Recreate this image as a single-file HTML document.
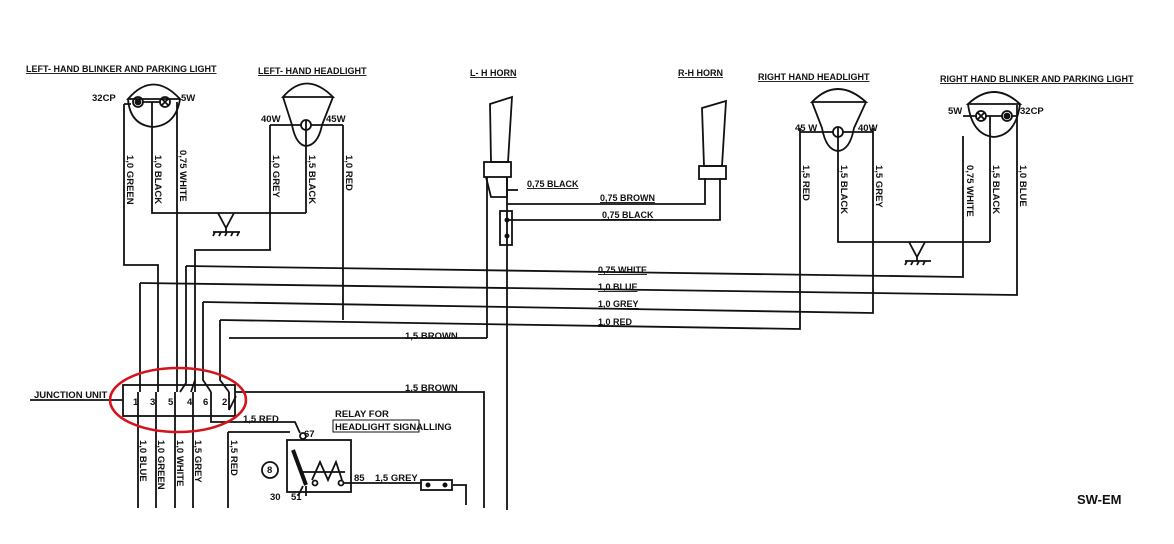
<!DOCTYPE html>
<html><head><meta charset="utf-8"><style>
html,body{margin:0;padding:0;background:#fff}
svg{display:block}
text{font-family:"Liberation Sans",sans-serif;font-weight:bold;fill:#111}
.t{font-size:9.5px}
.h{font-size:9px;text-decoration:underline}
</style></head><body>
<svg width="1174" height="544" viewBox="0 0 1174 544" xmlns="http://www.w3.org/2000/svg">
<g fill="none" stroke="#111" stroke-width="1.8">
<path d="M128,99 Q153,70 180,99 Z"/>
<path d="M128,99 Q130,125 153,127 Q176,125 180,99"/>
<circle cx="138" cy="102" r="5"/><circle cx="138" cy="102" r="2.5" fill="#111"/>
<circle cx="165" cy="102" r="5"/>
<path d="M162,99 l6,6 M168,99 l-6,6"/>
<path d="M124,104 H131 M143,102 H160"/>
<path d="M124,104 V265 H158 V392"/>
<path d="M152,102 V213 H306"/>
<path d="M177,102 V392"/>
<path d="M218,213 L226,228 L234,213 M226,228 V232 M213,232 H240 M215,232 l-2,4 M221,232 l-2,4 M227,232 l-2,4 M233,232 l-2,4 M239,232 l-2,4"/>
<path d="M283,97 Q306,70 333,97 Z"/>
<path d="M283,97 L292,125 Q296,145 306,146 Q318,145 322,125 L333,97"/>
<circle cx="306" cy="125" r="5"/><path d="M306,120 V130"/>
<path d="M270,125 H301 M311,125 H343"/>
<path d="M270,125 V250 H195 V392"/>
<path d="M306,130 V213"/>
<path d="M343,125 V320"/>
<path d="M186,266 L963,277 V136"/>
<path d="M186,266 V383 L180,392"/>
<path d="M140,283 L1017,295 V105"/>
<path d="M140,283 V392"/>
<path d="M203,302 L873,313 V128"/>
<path d="M203,302 V380 L211,392 M195,380 L191,392"/>
<path d="M220,320 L800,329 V128"/>
<path d="M220,320 V380 L229,392"/>
<path d="M229,338 H487"/>
<rect x="123" y="385" width="112" height="31"/>
<path d="M30,400 H123"/>
<path d="M138,392 V410 M156,392 V410 M175,392 V410 M193,392 V410 M211,392 V410 M229,392 V410 M229,410 L236,396"/>
<path d="M138,410 V508 M156,410 V508 M175,410 V508 M193,410 V508"/>
<path d="M211,410 V422 H295 L300,433"/>
<path d="M228,432 H290 M228,432 V508"/>
<path d="M235,392 H484 V508"/>
<rect x="287" y="440" width="64" height="52"/>
<circle cx="303" cy="436" r="3"/>
<path d="M293,450 L306,485" stroke-width="4"/>
<path d="M303,472 H345 M312,480 L320,462 L328,480 L336,462 L342,480"/>
<circle cx="315" cy="483" r="2.5"/><circle cx="341" cy="483" r="2.5"/>
<path d="M306,486 V496 M298,496 L303,486"/>
<circle cx="270" cy="470" r="8"/>
<path d="M344,483 H421 M453,485 H466 V505"/>
<rect x="421" y="480" width="31" height="10"/>
<circle cx="428" cy="485" r="1.6" fill="#111"/><circle cx="445" cy="485" r="1.6" fill="#111"/>
<rect x="333" y="420" width="86" height="12" stroke-width="1"/>
<path d="M490,104 L512,97 L508,162 H491 Z"/>
<rect x="484" y="162" width="27" height="15"/>
<path d="M486,177 L491,197 H507 L507,177"/>
<path d="M487,177 V338"/>
<path d="M507,177 V510"/>
<path d="M507,190 H518"/>
<rect x="500" y="211" width="12" height="34"/>
<circle cx="507" cy="220" r="1.6" fill="#111"/><circle cx="507" cy="236" r="1.6" fill="#111"/>
<path d="M507,204 H705 V178"/>
<path d="M507,220 H720 V178"/>
<path d="M702,108 L726,101 L722,166 H704 Z"/>
<rect x="699" y="166" width="27" height="13"/>
<path d="M812,102 Q837,76 866,102 Z"/>
<path d="M812,102 L822,128 Q826,150 838,151 Q850,150 854,128 L866,102"/>
<circle cx="838" cy="132" r="5"/><path d="M838,127 V137"/>
<path d="M800,132 H833 M843,132 H873"/>
<path d="M838,137 V242 H990"/>
<path d="M909,242 L917,257 L925,242 M917,257 V261 M905,261 H931 M907,261 l-2,4 M913,261 l-2,4 M919,261 l-2,4 M925,261 l-2,4"/>
<path d="M968,104 Q994,80 1020,104 Z"/>
<path d="M968,104 Q972,135 994,137 Q1016,135 1020,104"/>
<circle cx="981" cy="116" r="5"/><path d="M978,113 l6,6 M984,113 l-6,6"/>
<circle cx="1007" cy="116" r="5"/><circle cx="1007" cy="116" r="2.5" fill="#111"/>
<path d="M963,116 H976 M986,116 H1002 M1012,116 H1017"/>
<path d="M990,116 V242"/>
</g>
<ellipse cx="178" cy="400" rx="68" ry="32" fill="none" stroke="#d4141c" stroke-width="2.6"/>
<text class="h" x="26" y="72">LEFT- HAND BLINKER AND PARKING LIGHT</text>
<text class="h" x="258" y="74">LEFT- HAND HEADLIGHT</text>
<text class="h" x="470" y="76">L- H  HORN</text>
<text class="h" x="678" y="76">R-H  HORN</text>
<text class="h" x="758" y="80">RIGHT HAND HEADLIGHT</text>
<text class="h" x="940" y="82">RIGHT HAND BLINKER AND PARKING LIGHT</text>
<text class="t" x="92" y="101">32CP</text>
<text class="t" x="181" y="101">5W</text>
<text class="t" x="261" y="122">40W</text>
<text class="t" x="326" y="122">45W</text>
<text class="t" x="795" y="131">45 W</text>
<text class="t" x="858" y="131">40W</text>
<text class="t" x="948" y="114">5W</text>
<text class="t" x="1020" y="114">32CP</text>
<g class="t">
<text transform="translate(127,155) rotate(90)">1,0 GREEN</text>
<text transform="translate(155,155) rotate(90)">1,0 BLACK</text>
<text transform="translate(180,150) rotate(90)">0,75 WHITE</text>
<text transform="translate(273,155) rotate(90)">1,0 GREY</text>
<text transform="translate(309,155) rotate(90)">1,5 BLACK</text>
<text transform="translate(346,155) rotate(90)">1,0 RED</text>
<text transform="translate(803,165) rotate(90)">1,5 RED</text>
<text transform="translate(841,165) rotate(90)">1,5 BLACK</text>
<text transform="translate(876,165) rotate(90)">1,5 GREY</text>
<text transform="translate(967,165) rotate(90)">0,75 WHITE</text>
<text transform="translate(993,165) rotate(90)">1,5 BLACK</text>
<text transform="translate(1020,165) rotate(90)">1,0 BLUE</text>
<text transform="translate(140,440) rotate(90)">1,0 BLUE</text>
<text transform="translate(158,440) rotate(90)">1,0 GREEN</text>
<text transform="translate(177,440) rotate(90)">1,0 WHITE</text>
<text transform="translate(195,440) rotate(90)">1,5 GREY</text>
<text transform="translate(231,440) rotate(90)">1,5 RED</text>
</g>
<text class="h" x="527" y="187">0,75 BLACK</text>
<text class="h" x="600" y="201">0,75 BROWN</text>
<text class="h" x="602" y="218">0,75 BLACK</text>
<text class="h" x="598" y="273">0,75 WHITE</text>
<text class="h" x="598" y="290">1,0  BLUE</text>
<text class="h" x="598" y="307">1,0  GREY</text>
<text class="h" x="598" y="325">1,0  RED</text>
<text class="t" x="405" y="339">1,5  BROWN</text>
<text class="t" x="405" y="391">1,5  BROWN</text>
<text class="t" x="34" y="398">JUNCTION UNIT</text>
<g class="t"><text x="133" y="405">1</text><text x="150" y="405">3</text><text x="168" y="405">5</text><text x="187" y="405">4</text><text x="203" y="405">6</text><text x="222" y="405">2</text></g>
<text class="t" x="243" y="422">1,5  RED</text>
<text class="t" x="335" y="417">RELAY FOR</text>
<text class="t" x="335" y="430">HEADLIGHT SIGNALLING</text>
<text class="t" x="304" y="437">67</text>
<text class="t" x="267" y="473" font-size="7">8</text>
<text class="t" x="354" y="481">85</text>
<text class="t" x="375" y="481">1,5 GREY</text>
<text class="t" x="270" y="500">30</text><text class="t" x="291" y="500">51</text>
<text x="1077" y="504" style="font-size:13px">SW-EM</text>
</svg>
</body></html>
